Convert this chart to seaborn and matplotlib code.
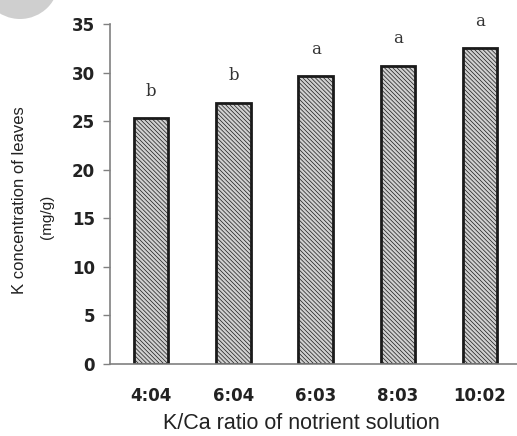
import matplotlib
matplotlib.use("Agg")
import matplotlib.pyplot as plt
import seaborn as sns
import pandas as pd
from matplotlib.patches import Ellipse

ratios = ["4:04", "6:04", "6:03", "8:03", "10:02"]
k_conc = [25.3, 26.9, 29.6, 30.7, 32.5]
letters = ["b", "b", "a", "a", "a"]

df = pd.DataFrame({"ratio": ratios, "k": k_conc})

sns.set_style("white")
plt.rcParams["hatch.color"] = "#b2b2b2"
plt.rcParams["hatch.linewidth"] = 0.5

fig = plt.figure(figsize=(5.17, 4.36), dpi=100)
ax = fig.add_axes([0.213, 0.166, 0.787, 0.779])

sns.barplot(data=df, x="ratio", y="k", color="#d0d0d0", width=0.42,
            edgecolor="#1a1a1a", linewidth=2, saturation=1, ax=ax)
for p in ax.patches:
    p.set_hatch("\\\\\\\\\\\\\\\\")

for i, (v, lab) in enumerate(zip(k_conc, letters)):
    ax.text(i, v + 1.9, lab, ha="center", va="bottom", fontsize=12,
            family="DejaVu Serif", color="#333333")

ax.set_ylim(0, 35)
ax.set_xlim(-0.5, 4.45)
ax.set_yticks(range(0, 36, 5))
ax.set_xticks(range(len(ratios)))
ax.set_xticklabels(ratios)
ax.set_xticks([0.5, 1.5, 2.5, 3.5], minor=True)
ax.tick_params(axis="x", which="major", length=0, pad=17)
ax.tick_params(axis="x", which="minor", length=5, width=1, color="#808080", direction="out")
ax.tick_params(axis="y", length=5, width=1, color="#808080", direction="out", pad=6, left=True)
for t in ax.get_xticklabels() + ax.get_yticklabels():
    t.set_fontweight("bold")
    t.set_fontsize(12)
    t.set_color("#222222")

for s in ["top", "right"]:
    ax.spines[s].set_visible(False)
for s in ["left", "bottom"]:
    ax.spines[s].set_color("#808080")
    ax.spines[s].set_linewidth(1.2)

ax.set_xlabel("")
ax.set_ylabel("")
fig.text(0.582, 0.004, "K/Ca ratio of notrient solution", ha="center", va="bottom",
         fontsize=15.5, family="Liberation Sans", color="#222222")
fig.text(0.038, 0.541, "K concentration of leaves", rotation=90, ha="center", va="center",
         fontsize=12, family="Liberation Sans", color="#222222")
fig.text(0.091, 0.502, "(mg/g)", rotation=90, ha="center", va="center",
         fontsize=11, family="Liberation Sans", color="#222222")

fig.patches.append(Ellipse((20 / 517, 1 + 20 / 436), 78 / 517, 78 / 436,
                           transform=fig.transFigure, facecolor="#cfcfcf", edgecolor="none"))

fig.savefig("out.png", dpi=100)
